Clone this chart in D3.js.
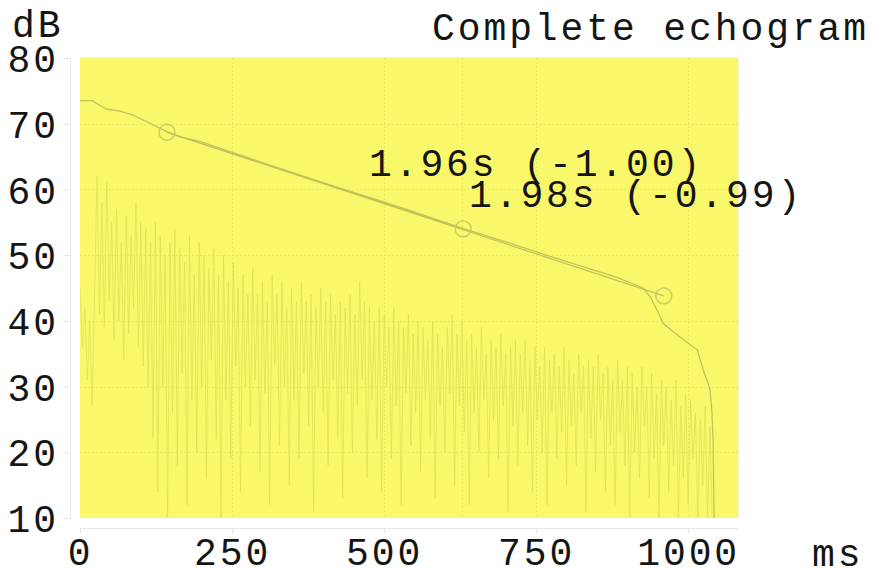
<!DOCTYPE html>
<html><head><meta charset="utf-8">
<script src="https://cdn.jsdelivr.net/npm/d3@7"></script>
<style>
html,body{margin:0;padding:0;background:#fff;}
svg{display:block;}
text{font-family:"Liberation Mono","Courier New",monospace;}
</style></head><body>
<svg id="chart" width="873" height="570"></svg>
<script>
// ---- data ----
const title = "Complete echogram";
const yUnit = "dB";
const xUnit = "ms";
const yTicks = [10, 20, 30, 40, 50, 60, 70, 80];
const xTicks = [0, 250, 500, 750, 1000];

// echogram energy level (dB), one value every sampleStepMs
const sampleStepMs = 4;
const echoLevels = [
  45, 36, 42, 31, 40, 27, 44, 62, 41, 58,
  39, 61, 43, 55, 37, 57, 40, 52, 34, 56,
  38, 53, 42, 58, 36, 55, 33, 54, 30, 52,
  22, 55, 14, 53, 30, 50, 10, 52, 26, 54,
  18, 51, 32, 49, 12, 53, 28, 47, 20, 52,
  30, 50, 16, 48, 34, 51, 22, 47, 10, 50,
  28, 46, 19, 49, 33, 45, 14, 47, 30, 44,
  24, 48, 31, 44, 17, 46, 29, 43, 12, 47,
  33, 44, 21, 46, 30, 42, 15, 45, 28, 43,
  19, 46, 32, 43, 24, 44, 11, 42, 30, 45,
  26, 43, 18, 44, 31, 41, 22, 43, 13, 42,
  29, 44, 20, 41, 27, 46, 31, 43, 16, 42,
  28, 40, 22, 42, 14, 41, 30, 39, 19, 42,
  27, 40, 12, 39, 29, 41, 21, 38, 26, 40,
  17, 39, 28, 37, 22, 40, 13, 38, 27, 36,
  20, 39, 29, 41, 15, 38, 27, 40, 23, 37,
  12, 38, 26, 36, 20, 39, 28, 35, 16, 37,
  25, 36, 19, 38, 27, 35, 11, 36, 24, 37,
  18, 35, 26, 37, 21, 34, 14, 36, 25, 33,
  20, 36, 12, 34, 26, 35, 19, 33, 23, 36,
  15, 34, 24, 32, 18, 35, 26, 33, 11, 34,
  22, 33, 17, 35, 25, 32, 14, 33, 21, 31,
  12, 34, 23, 31, 18, 33, 10, 32, 20, 30,
  16, 33, 24, 30, 13, 32, 19, 29, 10, 31,
  21, 30, 14, 28, 18, 31, 10, 27, 16, 29,
  12, 28, 19, 26, 10, 25, 15, 27, 10, 24,
  8
];

// backward-integrated decay curve
const decayTimes  = [0, 20, 38, 44, 66, 87, 110, 132, 143, 164, 197, 296, 411, 526, 628, 691, 773, 883, 926, 938, 949, 959, 987, 1015, 1026, 1031, 1036, 1039, 1041, 1043];
const decayLevels = [73.5, 73.5, 72.5, 72.2, 71.9, 71.3, 70.3, 69.3, 68.8, 68.0, 67.3, 64.2, 60.7, 57.3, 54.1, 52.3, 49.8, 46.6, 45.0, 43.6, 41.6, 39.6, 37.5, 35.6, 32.2, 31.0, 29.5, 26.4, 21.9, 8];

// regression evaluation points (start, end of each fit)
const fitPointTimes  = [143, 630, 960];
const fitPointLevels = [68.7, 54.0, 43.8];
const fitLabels = ["1.96s (-1.00)", "1.98s (-0.99)"];

// ---- drawing ----
const svg = d3.select("#chart");
const plot = {left: 80, right: 738, top: 58, bottom: 518};

const x = d3.scaleLinear().domain([0, 1082]).range([plot.left, plot.right]);
const y = d3.scaleLinear().domain([10, 80]).range([plot.bottom, plot.top]);

const fontSize = 38;
const spacing = 2.9;
const textFill = "#151515";

svg.append("defs").append("clipPath").attr("id", "plotClip")
  .append("rect")
  .attr("x", plot.left).attr("y", plot.top)
  .attr("width", plot.right - plot.left).attr("height", plot.bottom - plot.top);

// background
svg.append("rect")
  .attr("x", plot.left).attr("y", plot.top)
  .attr("width", plot.right - plot.left).attr("height", plot.bottom - plot.top)
  .attr("fill", "#f8f86a");
svg.append("line")
  .attr("x1", plot.left).attr("x2", plot.right)
  .attr("y1", plot.top - 0.5).attr("y2", plot.top - 0.5)
  .attr("stroke", "#f0f0e0");
svg.append("line")
  .attr("x1", plot.right + 0.5).attr("x2", plot.right + 0.5)
  .attr("y1", plot.top).attr("y2", plot.bottom)
  .attr("stroke", "#eeeed8");

// grid
const grid = svg.append("g").attr("stroke", "#e8e862").attr("stroke-width", 1)
  .attr("stroke-dasharray", "2,2");
grid.selectAll("line.h").data(yTicks.filter(v => v > 10 && v < 80)).join("line")
  .attr("class", "h")
  .attr("x1", plot.left).attr("x2", plot.right)
  .attr("y1", d => Math.round(y(d)) + 0.5).attr("y2", d => Math.round(y(d)) + 0.5);
grid.selectAll("line.v").data(xTicks.filter(v => v > 0)).join("line")
  .attr("class", "v")
  .attr("y1", plot.top).attr("y2", plot.bottom)
  .attr("x1", d => Math.round(x(d)) + 0.5).attr("x2", d => Math.round(x(d)) + 0.5);
// marker at the end of the shorter fit
grid.append("line")
  .attr("y1", plot.top).attr("y2", plot.bottom)
  .attr("x1", Math.round(x(fitPointTimes[1])) - 0.5)
  .attr("x2", Math.round(x(fitPointTimes[1])) - 0.5);

const clipped = svg.append("g").attr("clip-path", "url(#plotClip)");

// echogram trace
clipped.append("path")
  .datum(echoLevels)
  .attr("fill", "none")
  .attr("stroke", "#e0e05a")
  .attr("stroke-opacity", 0.75)
  .attr("stroke-width", 1)
  .attr("d", d3.line().x((d, i) => x(i * sampleStepMs)).y(d => y(d)));

// decay curve
clipped.append("path")
  .datum(decayTimes.map((t, i) => [t, decayLevels[i]]))
  .attr("fill", "none")
  .attr("stroke", "#c6c25c")
  .attr("stroke-width", 1.3)
  .attr("d", d3.line().x(d => x(d[0])).y(d => y(d[1])));

// regression lines
const fits = [[0, 1], [0, 2]];
clipped.selectAll("line.fit").data(fits).join("line")
  .attr("class", "fit")
  .attr("x1", d => x(fitPointTimes[d[0]])).attr("y1", d => y(fitPointLevels[d[0]]))
  .attr("x2", d => x(fitPointTimes[d[1]])).attr("y2", d => y(fitPointLevels[d[1]]))
  .attr("stroke", "#c4c05c")
  .attr("stroke-width", 1.2);

clipped.selectAll("circle.pt").data(fitPointTimes).join("circle")
  .attr("class", "pt")
  .attr("cx", d => x(d)).attr("cy", (d, i) => y(fitPointLevels[i]))
  .attr("r", 8)
  .attr("fill", "none")
  .attr("stroke", "#cdc862")
  .attr("stroke-width", 1.3);

// axes
function styleAxis(g) {
  g.select(".domain").attr("stroke", "#e6e6e6");
  g.selectAll(".tick line").attr("stroke", "#e2e2e2");
  g.selectAll(".tick text")
    .attr("fill", textFill)
    .style("font-family", '"Liberation Mono", monospace')
    .style("font-size", fontSize + "px")
    .style("letter-spacing", spacing + "px");
}

const yAxis = svg.append("g")
  .attr("transform", "translate(70,0)")
  .call(d3.axisLeft(y).tickValues(yTicks).tickFormat(d3.format("d"))
    .tickSize(6).tickSizeOuter(0).tickPadding(5))
  .call(styleAxis);
yAxis.selectAll(".tick text").attr("dy", "0.36em");

const xAxis = svg.append("g")
  .attr("transform", `translate(0,${plot.bottom + 10})`)
  .call(d3.axisBottom(x).tickValues(xTicks).tickFormat(d3.format("d"))
    .tickSize(5).tickSizeOuter(0).tickPadding(5))
  .call(styleAxis);
xAxis.select(".domain").attr("d", `M${plot.left},0.5H${plot.right}`);

// titles and units
function label(txt, px, py, anchor) {
  return svg.append("text").text(txt)
    .attr("x", px).attr("y", py)
    .attr("text-anchor", anchor)
    .attr("fill", textFill)
    .style("font-size", fontSize + "px")
    .style("letter-spacing", spacing + "px");
}
label(yUnit, 12, 37, "start");
label(title, 869, 40, "end");
label(xUnit, 812, 566, "start");

// reverberation time labels
label(fitLabels[0], 369, 176, "start");
label(fitLabels[1], 469, 207, "start");
</script>
</body></html>
